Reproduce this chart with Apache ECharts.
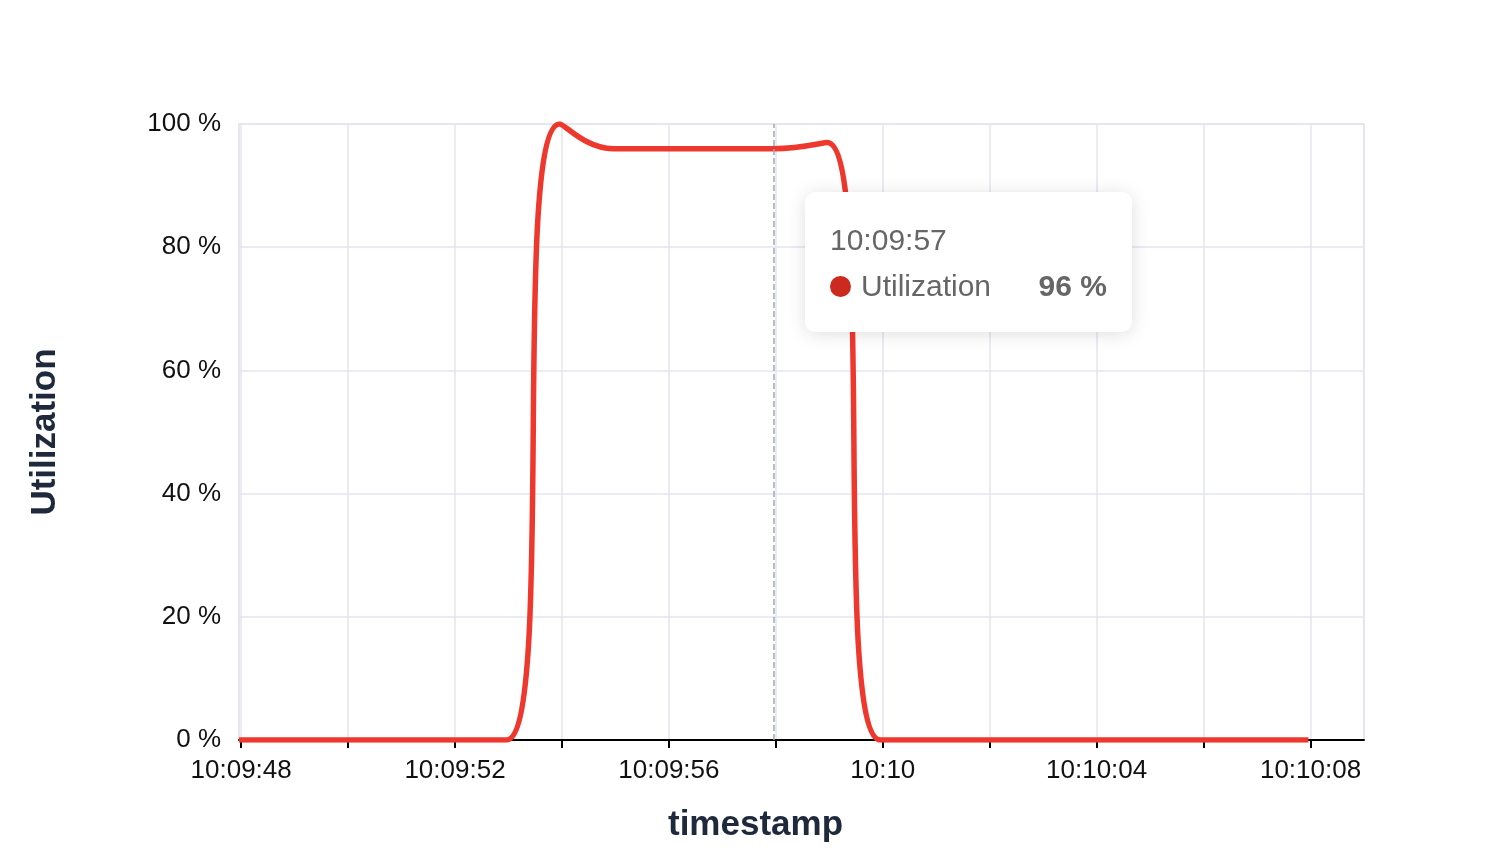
<!DOCTYPE html>
<html>
<head>
<meta charset="utf-8">
<script src="https://cdn.jsdelivr.net/npm/echarts@6/dist/echarts.min.js"></script>
<style>
html,body{margin:0;padding:0;background:#fff;}
#chart{width:1506px;height:864px;}
</style>
</head>
<body>
<div id="chart"></div>
<script>
// Sample timestamps (recorded slightly before whole seconds)
const startTime = '2024-01-01T10:09:47.960';
const stepMs = 1000;
const utilization = [0, 0, 0, 0, 0, 0, 100, 96, 96, 96, 96, 97, 0, 0, 0, 0, 0, 0, 0, 0, 0];
const yTicks = [0, 20, 40, 60, 80, 100];
const xLabelSeconds = [48, 52, 56, 0, 4, 8];
const axisMaxTime = '2024-01-01T10:10:09.000';
const seriesName = 'Utilization';
const highlightIndex = 10;

const t0 = new Date(startTime).getTime();
const seriesData = utilization.map((v, i) => [t0 + i * stepMs, v]);

const chart = echarts.init(document.getElementById('chart'));
const FONT = '"Liberation Sans", Arial, Helvetica, sans-serif';

function pad(n){ return (n < 10 ? '0' : '') + n; }

chart.setOption({
  animation: false,
  textStyle: { fontFamily: FONT },
  grid: { left: 239, right: 142, top: 124, bottom: 124, show: true, borderColor: '#e3e5ef', borderWidth: 1.5 },
  tooltip: {
    trigger: 'axis',
    alwaysShowContent: true,
    padding: 0,
    borderWidth: 0,
    backgroundColor: '#fff',
    extraCssText: 'box-shadow:0 2px 18px rgba(0,0,0,0.13);border-radius:10px;',
    position: function(){ return [805, 192]; },
    axisPointer: { type: 'line', lineStyle: { color: '#a3a7b8', type: 'dashed', width: 1.5 } },
    formatter: function(params){
      const p = params[0];
      const d = new Date(p.value[0]);
      const title = pad(d.getHours()) + ':' + pad(d.getMinutes()) + ':' + pad(d.getSeconds());
      return '<div style="font-family:' + FONT.replace(/"/g, "'") + ';padding:30px 25px 28px 25px;width:277px;color:#666;">' +
        '<div style="font-size:30px;line-height:36px;">' + title + '</div>' +
        '<div style="margin-top:10px;display:flex;justify-content:space-between;align-items:center;font-size:30px;line-height:36px;">' +
        '<span style="display:flex;align-items:center;"><span style="display:inline-block;width:21px;height:21px;border-radius:50%;background:#cc2a1e;margin-right:10px;"></span>' + p.seriesName + '</span>' +
        '<span style="font-weight:bold;">' + p.value[1] + ' %</span></div></div>';
    }
  },
  xAxis: {
    type: 'time',
    min: 'dataMin',
    max: new Date(axisMaxTime).getTime(),
    splitNumber: 6,
    name: 'timestamp',
    nameLocation: 'middle',
    nameGap: 68,
    nameTextStyle: { fontSize: 35, fontWeight: 'bold', color: '#1e293b', fontFamily: FONT, padding: [0, 92, 0, 0] },
    axisLine: { lineStyle: { color: '#000', width: 2 } },
    axisTick: { show: true, length: 8, lineStyle: { color: '#000', width: 2 } },
    splitLine: { show: true, lineStyle: { color: '#e3e5ef', width: 1.5 } },
    axisLabel: {
      fontSize: 26, color: '#111', margin: 18, fontFamily: FONT,
      showMinLabel: false, showMaxLabel: false,
      formatter: function(v){
        const d = new Date(v);
        const s = d.getSeconds();
        if (d.getMilliseconds() !== 0 || xLabelSeconds.indexOf(s) < 0) return '';
        if (s === 0) return pad(d.getHours()) + ':' + pad(d.getMinutes());
        return pad(d.getHours()) + ':' + pad(d.getMinutes()) + ':' + pad(s);
      }
    }
  },
  yAxis: {
    type: 'value',
    min: yTicks[0],
    max: yTicks[yTicks.length - 1],
    interval: yTicks[1] - yTicks[0],
    name: 'Utilization',
    nameLocation: 'middle',
    nameGap: 176,
    nameTextStyle: { fontSize: 35, fontWeight: 'bold', color: '#1e293b', fontFamily: FONT },
    axisLine: { show: false },
    axisTick: { show: false },
    splitLine: { lineStyle: { color: '#e3e5ef', width: 1.5 } },
    axisLabel: { fontSize: 26, color: '#111', margin: 18, formatter: '{value} %', fontFamily: FONT }
  },
  series: [{
    name: seriesName,
    type: 'line',
    smooth: true,
    symbol: 'none',
    data: seriesData,
    lineStyle: { color: '#d9332a', width: 5.5 },
    itemStyle: { color: '#cc2a1e' }
  }]
});

setTimeout(function(){
  chart.dispatchAction({ type: 'showTip', seriesIndex: 0, dataIndex: highlightIndex });
}, 50);
</script>
</body>
</html>
